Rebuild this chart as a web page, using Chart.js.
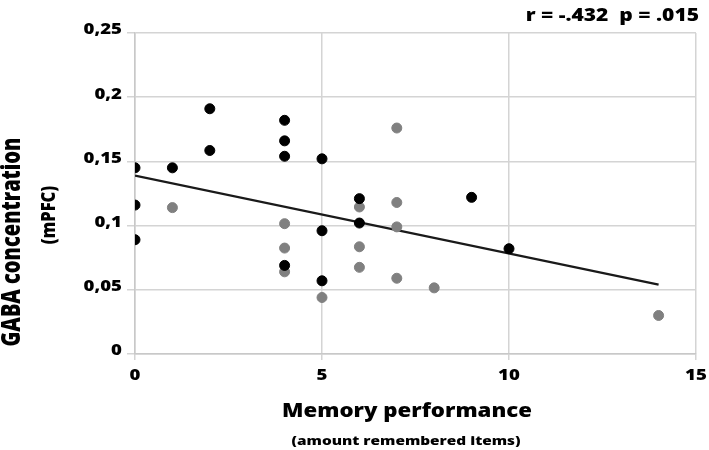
<!DOCTYPE html>
<html>
<head>
<meta charset="utf-8">
<script src="https://cdn.jsdelivr.net/npm/chart.js@4"></script>
<style>
    html, body { margin: 0; padding: 0; background: #fff; }
    #wrap { width: 709px; height: 450px; }
</style>
</head>
<body>
<div id="wrap"><canvas id="chart" width="709" height="450"></canvas></div>
<script>
// black points
const blackX = [0, 0, 0, 1, 2, 2, 4, 4, 4, 4, 5, 5, 5, 6, 6, 9, 10];
const blackY = [0.145, 0.116, 0.089, 0.145, 0.191, 0.1585, 0.182, 0.166, 0.154, 0.069, 0.152, 0.096, 0.057, 0.121, 0.102, 0.122, 0.082];
// gray points
const grayX = [1, 4, 4, 4, 5, 6, 6, 6, 7, 7, 7, 7, 8, 14];
const grayY = [0.114, 0.1015, 0.0825, 0.064, 0.044, 0.1145, 0.0835, 0.0675, 0.176, 0.118, 0.099, 0.059, 0.0515, 0.030];
// regression line
const trendX = [0, 14];
const trendY = [0.139, 0.054];

const xTicks = [0, 5, 10, 15];
const xTickLabels = ['0', '5', '10', '15'];
const yTickLabels = ['0', '0,05', '0,1', '0,15', '0,2', '0,25'];
const statText = 'r = -.432  p = .015';

const FONT = '"Open Sans", "DejaVu Sans", sans-serif';
const SX = 1.2; // the reference text looks stretched sideways

const toPoints = (xs, ys) => xs.map((x, i) => ({ x: x, y: ys[i] }));

function drawText(ctx, text, x, y, size, align, rotate, sx) {
    ctx.save();
    ctx.translate(x, y);
    ctx.scale(sx || SX, 1);
    if (rotate) ctx.rotate(-Math.PI / 2);
    ctx.font = '800 ' + size + 'px ' + FONT;
    ctx.textAlign = align;
    ctx.textBaseline = 'middle';
    ctx.fillStyle = '#000';
    ctx.fillText(text, 0, 0);
    ctx.restore();
}

const titles = {
    id: 'titles',
    afterDraw(chart) {
        const ctx = chart.ctx;
        const xs = chart.scales.x, ys = chart.scales.y;

        xs.ticks.forEach((t, i) => {
            drawText(ctx, xTickLabels[i], xs.getPixelForValue(t.value), 376, 15.5, 'center');
        });
        ys.ticks.forEach((t, i) => {
            drawText(ctx, yTickLabels[i], 122, ys.getPixelForValue(t.value) - 3, 15.5, 'right');
        });

        drawText(ctx, statText, 699, 16, 17.5, 'right');
        drawText(ctx, 'Memory performance', 407, 412, 18.5, 'center');
        drawText(ctx, '(amount remembered items)', 406, 441, 12.8, 'center');
        drawText(ctx, 'GABA concentration', 12, 242, 20, 'center', true, 1.35);
        drawText(ctx, '(mPFC)', 49, 215, 16.5, 'center', true);
    }
};

new Chart(document.getElementById('chart'), {
    type: 'scatter',
    data: {
        datasets: [{
            data: toPoints(trendX, trendY),
            showLine: true,
            borderColor: '#1a1a1a',
            borderWidth: 2.2,
            pointRadius: 0,
            fill: false,
            order: 3
        }, {
            data: toPoints(grayX, grayY),
            backgroundColor: '#808080',
            borderColor: '#808080',
            pointRadius: 5,
            order: 2
        }, {
            data: toPoints(blackX, blackY),
            backgroundColor: '#000',
            borderColor: '#000',
            pointRadius: 5,
            order: 1
        }]
    },
    options: {
        responsive: false,
        animation: false,
        layout: { padding: { left: 0, top: 33, right: 13, bottom: 0 } },
        plugins: {
            legend: { display: false },
            tooltip: { enabled: false }
        },
        scales: {
            x: {
                type: 'linear',
                min: 0,
                max: 15,
                afterBuildTicks: s => { s.ticks = xTicks.map(v => ({ value: v })); },
                afterFit: s => { s.height = 96; },
                grid: { color: '#d4d4d4', lineWidth: 1.5, tickLength: 6 },
                border: { color: '#c8c8c8', width: 1.5 },
                ticks: {
                    color: 'rgba(0,0,0,0)',
                    font: { family: FONT, size: 16, weight: 'bold' },
                    maxRotation: 0
                }
            },
            y: {
                min: 0,
                max: 0.25,
                afterFit: s => { s.width = 135; },
                grid: { color: '#d4d4d4', lineWidth: 1.5, tickLength: 8 },
                border: { color: '#c8c8c8', width: 1.5 },
                ticks: {
                    stepSize: 0.05,
                    color: 'rgba(0,0,0,0)',
                    font: { family: FONT, size: 16, weight: 'bold' }
                }
            }
        }
    },
    plugins: [titles]
});
</script>
</body>
</html>
